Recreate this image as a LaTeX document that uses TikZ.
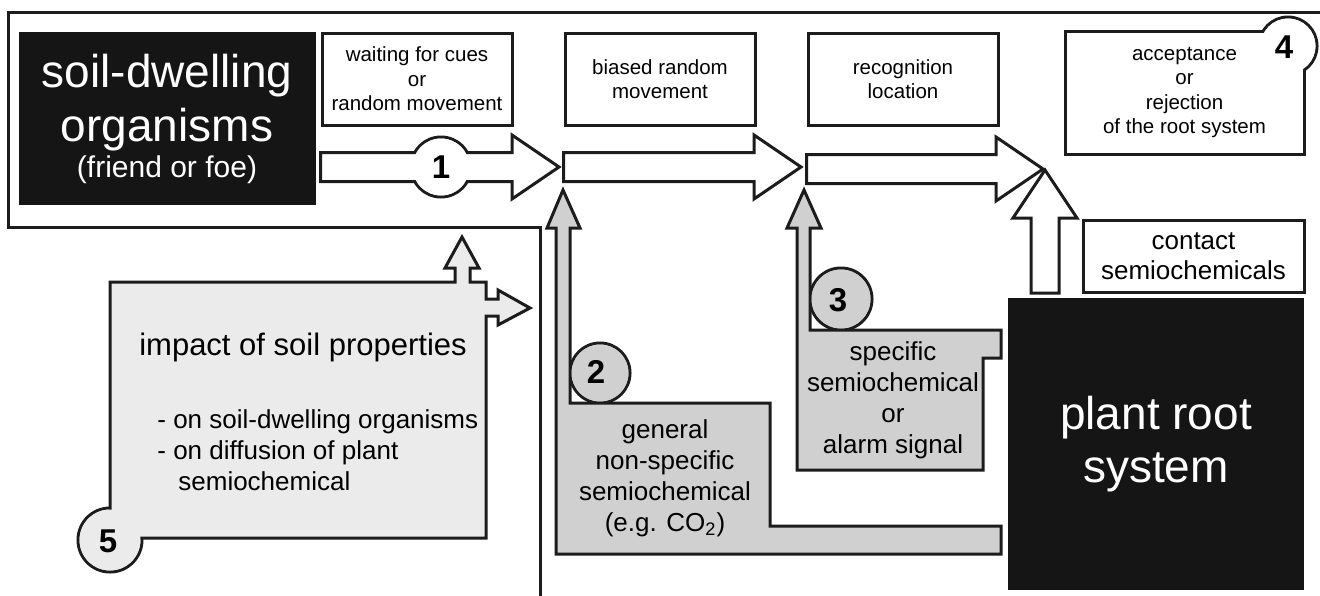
\documentclass[tikz,border=0pt]{standalone}
\usepackage{fontspec}
\setmainfont{Liberation Sans}
\usepackage{tikz}
\usetikzlibrary{positioning, calc}
\usepackage{xcolor}
\definecolor{hostblack}{HTML}{151515}
\definecolor{cuegrey}{HTML}{D0D0D0}
\definecolor{soilgrey}{HTML}{EBEBEB}
\definecolor{inkgrey}{HTML}{1C1C1C}

% block arrows: #2 tail, #3 tip
\newcommand{\blockright}[3][white]{%
  \draw[blockline, fill=#1] ($(#2)+(0,-14.5)$) -- ($(#3)+(-47,-14.5)$) -- ($(#3)+(-47,-32)$) -- (#3)
    -- ($(#3)+(-47,32)$) -- ($(#3)+(-47,14.5)$) -- ($(#2)+(0,14.5)$) -- cycle;}
\newcommand{\blockup}[3][white]{%
  \draw[blockline, fill=#1] ($(#2)+(-14,0)$) -- ($(#3)+(-14,48)$) -- ($(#3)+(-32,48)$) -- (#3)
    -- ($(#3)+(32,48)$) -- ($(#3)+(14,48)$) -- ($(#2)+(14,0)$) -- cycle;}

\begin{document}
\begin{tikzpicture}[x=0.5pt, y=-0.5pt,
    node distance=25pt,
    blockline/.style={draw=inkgrey, line width=1.5pt, line join=miter},
    host/.style={fill=hostblack, text=white, align=center, inner sep=0pt},
    stage/.style={draw=inkgrey, line width=1.5pt, fill=white, align=center,
                  minimum width=95pt, minimum height=46pt, inner sep=0pt,
                  font=\fontsize{10.25}{12.2}\selectfont},
    chem/.style={align=center, inner sep=0pt, font=\fontsize{13}{15.5}\selectfont},
    num/.style={inner sep=0pt, font=\fontsize{16.5}{16.5}\selectfont\bfseries}]
  \useasboundingbox (0,0) rectangle (1320,595);

  % outer frame
  \draw[inkgrey, line width=1.5pt] (1320,12) -- (8,12) -- (8,227) -- (540,227) -- (540,600);

  % organisms and plant
  \node[host, minimum width=148.5pt, minimum height=86.5pt, font=\fontsize{23}{27}\selectfont] (org) at (167,118.5)
    {soil-dwelling\\organisms\\[-9pt]{\fontsize{15}{17}\selectfont (friend or foe)}};
  \node[host, minimum width=148pt, minimum height=146pt, font=\fontsize{23}{26.5}\selectfont] (root) at (1156,444)
    {plant root\\system};

  % behaviour stages
  \node[stage] (wait) at (417,79) {waiting for cues\\or\\random movement};
  \node[stage, right=of wait] (biased) {biased random\\movement};
  \node[stage, right=of biased] (recog) {recognition\\location};

  \coordinate (tip1) at (559,167);
  \coordinate (tip2) at (801,167);
  \coordinate (tip3) at (1043,169);

  \draw[blockline, fill=white] (441,167) circle[radius=30];
  \blockright{wait.west |- tip1}{tip1}
  \fill[white] (441,167) circle[radius=28.5];
  \node[num] (n1) at (441,167) {1};
  \blockright{biased.west |- tip2}{tip2}
  \blockright{recog.west |- tip3}{tip3}

  % acceptance
  \draw[blockline, fill=white] (1288,46) circle[radius=29];
  \node[stage, minimum width=119.5pt, minimum height=61.5pt] (accept) at (1184.5,92.5)
    {acceptance\\or\\rejection\\of the root system};
  \fill[white] (1288,46) circle[radius=27.5];
  \node[num] (n4) at (1284,47) {4};

  % contact cue
  \node[stage, minimum width=110.5pt, minimum height=36pt, font=\fontsize{13}{15}\selectfont] (contact) at (1193.5,256)
    {contact\\semiochemicals};
  \coordinate (foot) at (1045,293);
  \blockup{foot}{1045,170}

  % general cue
  \draw[blockline, fill=cuegrey] (600,373) circle[radius=30];
  \draw[blockline, fill=cuegrey] (563,190) -- (580,228) -- (570,228) -- (570,403) -- (770,403) -- (770,526)
    -- (1001,526) -- (1001,554) -- (556,554) -- (556,228) -- (547,228) -- cycle;
  \fill[cuegrey] (600,373) circle[radius=28.5];
  \node[num] (n2) at (596,372) {2};
  \node[chem] (general) at (665,478) {general\\non-specific\\semiochemical\\(e.g. CO\textsubscript{2})};

  % specific cue
  \draw[blockline, fill=cuegrey] (841,299) circle[radius=31];
  \draw[blockline, fill=cuegrey] (804,190) -- (821,228) -- (810,228) -- (810,330) -- (1001,330) -- (1001,358)
    -- (983,358) -- (983,470) -- (797,470) -- (797,228) -- (787,228) -- cycle;
  \fill[cuegrey] (841,299) circle[radius=29.5];
  \node[num] (n3) at (838,300) {3};
  \node[chem] (specific) at (893,400) {specific\\semiochemical\\or\\alarm signal};

  % soil properties
  \draw[blockline, fill=soilgrey] (110,540) circle[radius=32];
  \draw[blockline, fill=soilgrey] (110,282) -- (455,282) -- (455,268) -- (445,268) -- (462,237) -- (479,268)
    -- (470,268) -- (470,282) -- (486,282) -- (486,299) -- (498,299) -- (498,290) -- (530,308) -- (498,325)
    -- (498,316) -- (486,316) -- (486,538) -- (110,538) -- cycle;
  \fill[soilgrey] (110,540) circle[radius=30.5];
  \node[num] (n5) at (108,541) {5};
  \node[inner sep=0pt, font=\fontsize{15.5}{18}\selectfont] (impact) at (303,347) {impact of soil properties};
  \node[chem, align=left, anchor=west] (effects) at (157,450)
    {- on soil-dwelling organisms\\- on diffusion of plant\\\hspace*{10.5pt}semiochemical};
\end{tikzpicture}
\end{document}
